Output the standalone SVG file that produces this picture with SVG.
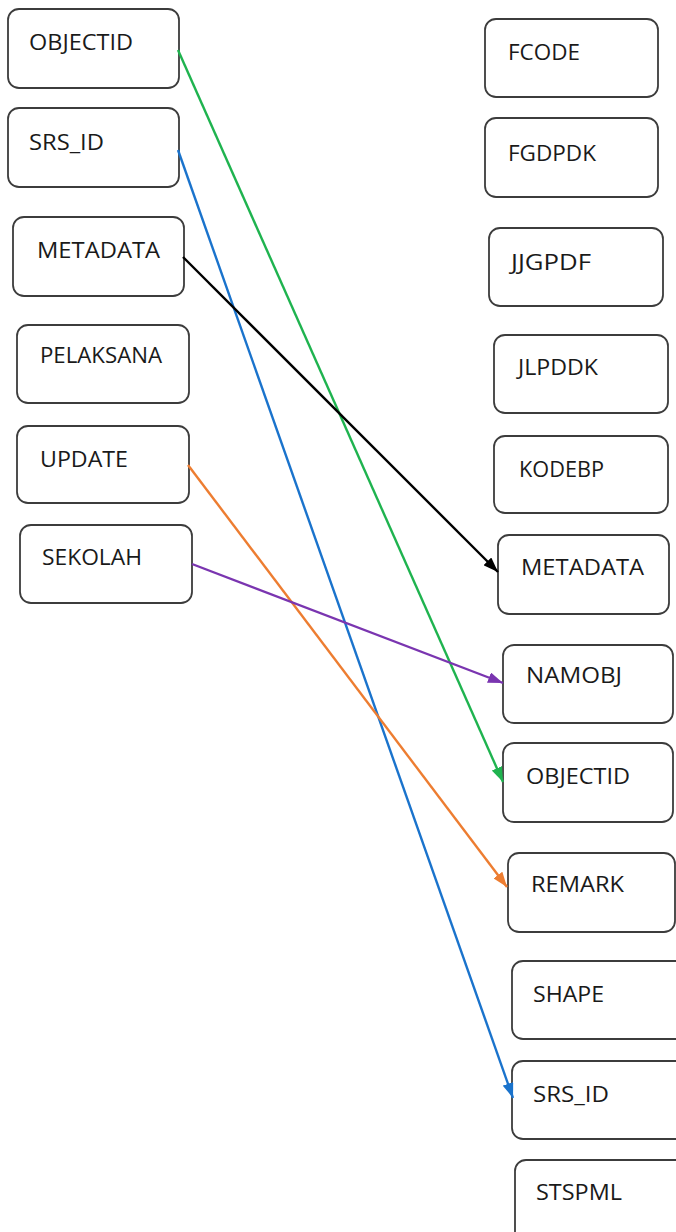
<svg xmlns="http://www.w3.org/2000/svg" width="676" height="1232" viewBox="0 0 676 1232">
<style>
.box{fill:#ffffff;stroke:#3c3c3c;stroke-width:1.8}
.lbl{font-family:"Open Sans","Liberation Sans",sans-serif;font-size:21px;fill:#1a1a1a}
.con{fill:none;stroke-width:2.4}
</style>
<defs>
<marker id="ah-black" viewBox="0 0 15 11" refX="15" refY="5.5" markerWidth="15" markerHeight="11" markerUnits="userSpaceOnUse" orient="auto"><path d="M0,0 L15,5.5 L0,11 z" fill="#000000"/></marker>
<marker id="ah-green" viewBox="0 0 15 11" refX="15" refY="5.5" markerWidth="15" markerHeight="11" markerUnits="userSpaceOnUse" orient="auto"><path d="M0,0 L15,5.5 L0,11 z" fill="#1fb34f"/></marker>
<marker id="ah-blue" viewBox="0 0 15 11" refX="15" refY="5.5" markerWidth="15" markerHeight="11" markerUnits="userSpaceOnUse" orient="auto"><path d="M0,0 L15,5.5 L0,11 z" fill="#1a73cc"/></marker>
<marker id="ah-orange" viewBox="0 0 15 11" refX="15" refY="5.5" markerWidth="15" markerHeight="11" markerUnits="userSpaceOnUse" orient="auto"><path d="M0,0 L15,5.5 L0,11 z" fill="#ed7d31"/></marker>
<marker id="ah-purple" viewBox="0 0 15 11" refX="15" refY="5.5" markerWidth="15" markerHeight="11" markerUnits="userSpaceOnUse" orient="auto"><path d="M0,0 L15,5.5 L0,11 z" fill="#7a35b0"/></marker>
</defs>
<rect width="676" height="1232" fill="#ffffff"/>

<g id="l-objectid"><rect class="box" x="8" y="9" width="171" height="79" rx="11"/><text class="lbl" x="29" y="50" textLength="104" lengthAdjust="spacingAndGlyphs">OBJECTID</text></g>
<g id="l-srs_id"><rect class="box" x="8" y="108" width="171" height="79" rx="11"/><text class="lbl" x="29" y="150" textLength="75" lengthAdjust="spacingAndGlyphs">SRS_ID</text></g>
<g id="l-metadata"><rect class="box" x="13" y="217" width="171" height="79" rx="11"/><text class="lbl" x="37" y="258" textLength="123" lengthAdjust="spacingAndGlyphs">METADATA</text></g>
<g id="l-pelaksana"><rect class="box" x="17" y="325" width="172" height="78" rx="11"/><text class="lbl" x="40" y="363" textLength="122" lengthAdjust="spacingAndGlyphs">PELAKSANA</text></g>
<g id="l-update"><rect class="box" x="17" y="426" width="172" height="77" rx="11"/><text class="lbl" x="40" y="467" textLength="88" lengthAdjust="spacingAndGlyphs">UPDATE</text></g>
<g id="l-sekolah"><rect class="box" x="20" y="525" width="172" height="78" rx="11"/><text class="lbl" x="42" y="565" textLength="100" lengthAdjust="spacingAndGlyphs">SEKOLAH</text></g>

<g id="r-fcode"><rect class="box" x="485" y="19" width="173" height="78" rx="11"/><text class="lbl" x="508" y="60" textLength="72" lengthAdjust="spacingAndGlyphs">FCODE</text></g>
<g id="r-fgdpdk"><rect class="box" x="485" y="118" width="173" height="79" rx="11"/><text class="lbl" x="508" y="161" textLength="88" lengthAdjust="spacingAndGlyphs">FGDPDK</text></g>
<g id="r-jjgpdf"><rect class="box" x="489" y="228" width="174" height="78" rx="11"/><text class="lbl" x="511" y="270" textLength="80" lengthAdjust="spacingAndGlyphs">JJGPDF</text></g>
<g id="r-jlpddk"><rect class="box" x="494" y="335" width="174" height="78" rx="11"/><text class="lbl" x="518" y="375" textLength="80" lengthAdjust="spacingAndGlyphs">JLPDDK</text></g>
<g id="r-kodebp"><rect class="box" x="494" y="436" width="174" height="77" rx="11"/><text class="lbl" x="519" y="477" textLength="85" lengthAdjust="spacingAndGlyphs">KODEBP</text></g>
<g id="r-metadata"><rect class="box" x="498" y="535" width="171" height="79" rx="11"/><text class="lbl" x="521" y="575" textLength="123" lengthAdjust="spacingAndGlyphs">METADATA</text></g>
<g id="r-namobj"><rect class="box" x="503" y="645" width="170" height="78" rx="11"/><text class="lbl" x="526" y="683" textLength="96" lengthAdjust="spacingAndGlyphs">NAMOBJ</text></g>
<g id="r-objectid"><rect class="box" x="503" y="743" width="170" height="79" rx="11"/><text class="lbl" x="526" y="784" textLength="104" lengthAdjust="spacingAndGlyphs">OBJECTID</text></g>
<g id="r-remark"><rect class="box" x="508" y="853" width="167" height="79" rx="11"/><text class="lbl" x="531" y="892" textLength="93" lengthAdjust="spacingAndGlyphs">REMARK</text></g>
<g id="r-shape"><rect class="box" x="512" y="961" width="180" height="78" rx="11"/><text class="lbl" x="533" y="1002" textLength="71" lengthAdjust="spacingAndGlyphs">SHAPE</text></g>
<g id="r-srs_id"><rect class="box" x="512" y="1061" width="180" height="78" rx="11"/><text class="lbl" x="533" y="1102" textLength="76" lengthAdjust="spacingAndGlyphs">SRS_ID</text></g>
<g id="r-stspml"><rect class="box" x="515" y="1160" width="180" height="90" rx="11"/><text class="lbl" x="536" y="1200" textLength="86" lengthAdjust="spacingAndGlyphs">STSPML</text></g>

<g id="connectors">
<line class="con" x1="178" y1="50" x2="503" y2="782" stroke="#1fb34f" marker-end="url(#ah-green)"/>
<line class="con" x1="178" y1="150" x2="513" y2="1098" stroke="#1a73cc" marker-end="url(#ah-blue)"/>
<line class="con" x1="183" y1="257" x2="498" y2="572" stroke="#000000" marker-end="url(#ah-black)"/>
<line class="con" x1="188" y1="465" x2="507" y2="887" stroke="#ed7d31" marker-end="url(#ah-orange)"/>
<line class="con" x1="192" y1="564" x2="503" y2="683" stroke="#7a35b0" marker-end="url(#ah-purple)"/>
</g>
</svg>
